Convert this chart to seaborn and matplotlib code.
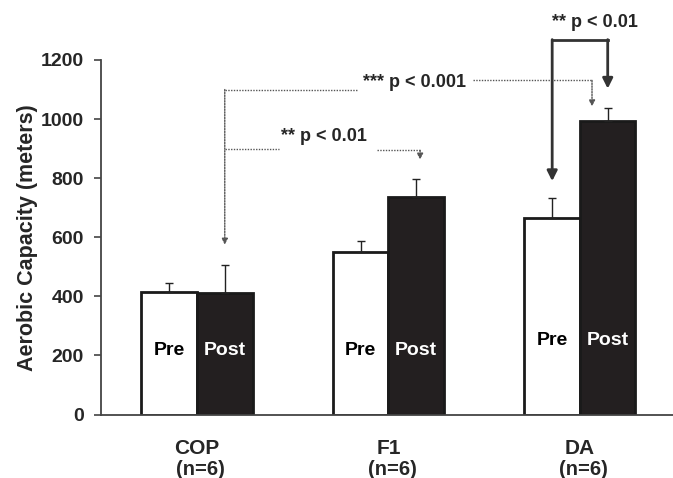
import numpy as np
import pandas as pd
import matplotlib
matplotlib.use("Agg")
import matplotlib.pyplot as plt
import seaborn as sns

# data
groups = ["COP", "F1", "DA"]
n_labels = ["(n=6)", "(n=6)", "(n=6)"]
pre_vals = [415, 551, 665]
post_vals = [411, 737, 995]
pre_err = [30, 37, 68]
post_err = [94, 61, 42]

sns.set_style("ticks")
plt.rcParams["font.family"] = ["Liberation Sans", "DejaVu Sans"]
plt.rcParams["font.weight"] = "bold"

df = pd.DataFrame({
    "group": groups * 2,
    "time": ["Pre"] * 3 + ["Post"] * 3,
    "value": pre_vals + post_vals,
})

fig = plt.figure(figsize=(6.73, 4.78), dpi=100)
ax = fig.add_axes([100.7 / 673, 63.5 / 478, 1 - 100.7 / 673, 354.5 / 478])

sns.barplot(data=df, x="group", y="value", hue="time", hue_order=["Pre", "Post"],
            palette={"Pre": "white", "Post": "#231f20"}, width=0.58, saturation=1,
            edgecolor="#1a1a1a", linewidth=2, errorbar=None, legend=False, ax=ax)

# one-sided error bars + labels inside bars
label_y = {"Pre": [215, 215, 250], "Post": [215, 215, 250]}
centers = {}
for cont, name, vals, errs, tc in zip(ax.containers, ["Pre", "Post"],
                                      [pre_vals, post_vals], [pre_err, post_err],
                                      ["black", "white"]):
    xs = [b.get_x() + b.get_width() / 2 for b in cont]
    centers[name] = xs
    ax.errorbar(xs, vals, yerr=[np.zeros(len(errs)), errs], fmt="none",
                ecolor="#222222", elinewidth=1, capsize=3, capthick=1, zorder=1)
    for x, y in zip(xs, label_y[name]):
        ax.text(x, y, name, ha="center", va="center", color=tc,
                fontsize=14, fontweight="bold")

sns.despine(ax=ax)
for s in ["left", "bottom"]:
    ax.spines[s].set_color("#444444")
    ax.spines[s].set_linewidth(1.3)

ax.set_ylim(0, 1200)
ax.set_yticks(range(0, 1201, 200))
ax.set_xlim(-0.503, 2.486)
ax.tick_params(axis="x", length=0, pad=18, labelsize=15)
ax.tick_params(axis="y", length=5, width=1.2, color="#444444", pad=7, labelsize=14)
ax.set_xlabel("")
ax.set_ylabel("Aerobic Capacity (meters)", fontsize=15.5, fontweight="bold")
ax.yaxis.set_label_coords(-0.11, 0.5)

for i, lab in enumerate(n_labels):
    ax.annotate(lab, xy=(i + 0.02, -0.155), xycoords=("data", "axes fraction"),
                ha="center", va="center", fontsize=14.5, fontweight="bold",
                annotation_clip=False)

# significance markers
dot = dict(color="#555555", lw=1, ls=(0, (1, 1)), clip_on=False)
small_head = dict(arrowstyle="-|>,head_length=0.35,head_width=0.18",
                  color="#555555", lw=1, ls=(0, (1, 1)), shrinkA=0, shrinkB=0)
big_head = dict(arrowstyle="-|>,head_length=0.6,head_width=0.3",
                color="#333333", lw=2, shrinkA=0, shrinkB=0)

cop_post = centers["Post"][0]
f1_post = centers["Post"][1]
da_pre = centers["Pre"][2]
da_post = centers["Post"][2]

# *** COP vs DA
ax.plot([cop_post, 0.834], [1100, 1100], **dot)
ax.annotate("", xy=(cop_post, 575), xytext=(cop_post, 1100), arrowprops=small_head)
ax.text(0.867, 1124, "*** p < 0.001", ha="left", va="center", fontsize=13, fontweight="bold")
ax.plot([1.441, da_post - 0.082], [1131, 1131], **dot)
ax.annotate("", xy=(da_post - 0.082, 1043), xytext=(da_post - 0.082, 1131), arrowprops=small_head)

# ** COP vs F1
ax.plot([cop_post, 0.428], [900, 900], **dot)
ax.text(0.439, 942, "** p < 0.01", ha="left", va="center", fontsize=13, fontweight="bold")
ax.plot([0.938, f1_post + 0.02], [894, 894], **dot)
ax.annotate("", xy=(f1_post + 0.02, 863), xytext=(f1_post + 0.02, 894), arrowprops=small_head)

# ** DA pre vs post
ax.plot([da_pre, da_post], [1269, 1269], color="#333333", lw=2, clip_on=False,
        solid_capstyle="projecting")
ax.annotate("", xy=(da_pre, 790), xytext=(da_pre, 1269), arrowprops=big_head,
            annotation_clip=False)
ax.annotate("", xy=(da_post, 1103), xytext=(da_post, 1269), arrowprops=big_head,
            annotation_clip=False)
ax.text(2.078, 1326, "** p < 0.01", ha="center", va="center", fontsize=13,
        fontweight="bold", clip_on=False)

fig.savefig("out.png", dpi=100)
